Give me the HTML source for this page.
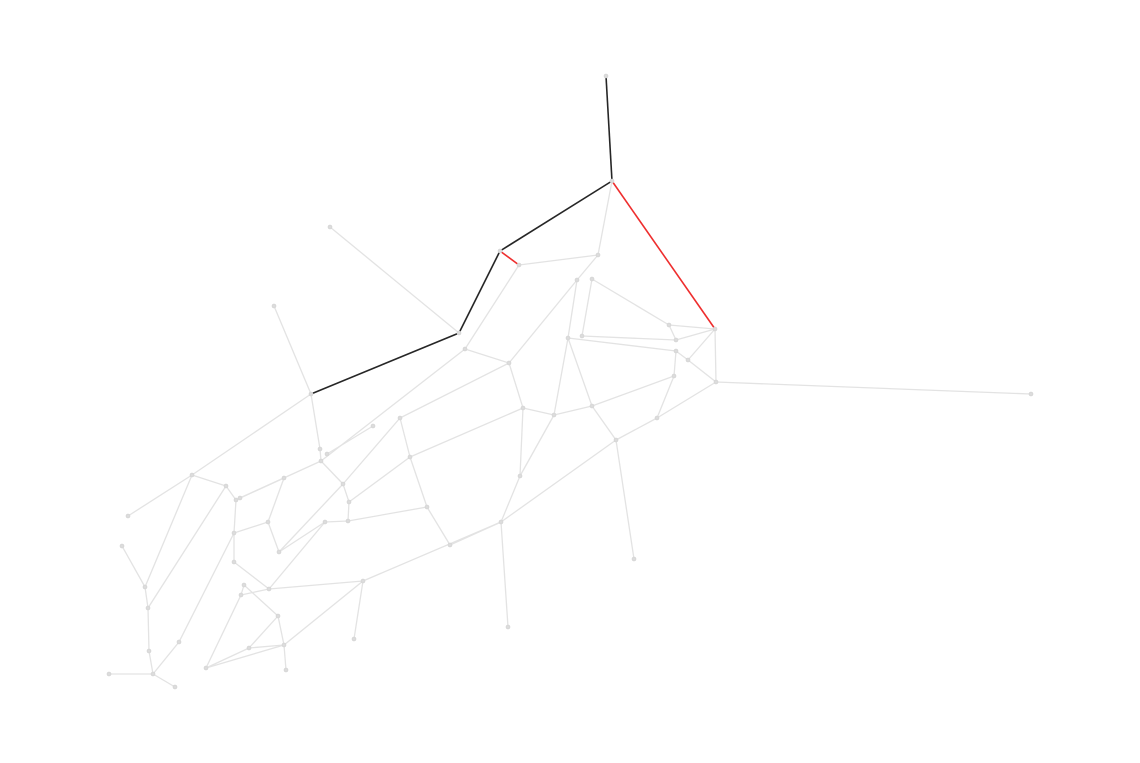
<!DOCTYPE html>
<html><head><meta charset="utf-8"><style>
html,body{margin:0;padding:0;background:#fff;width:1140px;height:763px;overflow:hidden;font-family:"Liberation Sans",sans-serif}
</style></head><body>
<svg id="chart" width="1140" height="763" viewBox="0 0 1140 763" xmlns="http://www.w3.org/2000/svg">
<g id="edges"></g>
<g id="path-edges"></g>
<g id="nodes"></g>
</svg>
<script>
const nodeIds = ["A","B","C","D","E","F","G","H","I","J","K","L","M","N","O","P","Q","R","S","T","U","V","W","X","Y","Z","a","b","c","d","e","f","g","h","i","j","k","l","m","n","o","p","q","r","s","t","u","v","v2","w","x","y","z","aa","bb","cc","dd","ee","ff","gg","hh","ii","jj","kk","ll","mm","nn","oo","pp","qq","tl","tl2"];
const nodeX = [606,612,500,519,598,459,311,715,1031,716,577,592,568,582,669,676,676,688,674,465,509,523,554,592,616,657,634,400,373,320,327,321,410,520,343,349,427,325,348,501,450,508,363,354,128,192,226,236,240,284,268,279,234,234,244,241,269,278,284,286,249,206,122,145,148,149,153,109,175,179,330,274];
const nodeY = [76,181,251,265,255,333,394,329,394,382,280,279,338,336,325,340,351,360,376,349,363,408,415,406,440,418,559,418,426,449,454,461,457,476,484,502,507,522,521,522,545,627,581,639,516,475,486,500,498,478,522,552,533,562,585,595,589,616,645,670,648,668,546,587,608,651,674,674,687,642,227,306];
const greyEdges = ["tl-F","tl2-G","G-t","G-d","t-s","t-u","t-kk","u-v","u-ll","v2-f","c-e","d-f","f-i","f-T","w-x","x-y","y-i","y-l","l-m","dd-l","m-k","k-g","k-o","g-b","o-n","n-h","h-V","V-U","U-T","T-D","U-b","b-i","g-j","V-g","m-j","q-dd","q-n","q-r","q-ff","n-p","n-Y","h-W","W-V","W-M","M-K","K-U","E-K","E-D","E-B","L-N","L-O","N-P","M-Q","O-P","O-H","P-H","Q-R","R-J","R-H","H-J","J-I","J-Z","Z-Y","Z-S","Q-S","S-X","X-W","X-Y","X-M","Y-a","i-j","v-z","z-x","z-aa","aa-dd","bb-ee","cc-dd","cc-ii","ii-hh","ii-ff","hh-ee","hh-ff","ff-gg","ff-ee","z-qq","qq-nn","kk-jj","kk-ll","ll-mm","mm-nn","nn-oo","nn-pp","w-v2","bb-cc"];
const blackEdges = ["A-B","B-C","C-F","F-G"];
const redEdges = ["B-H","C-D"];

const NS="http://www.w3.org/2000/svg";
function px(id){return nodeX[nodeIds.indexOf(id)];}
function py(id){return nodeY[nodeIds.indexOf(id)];}
function drawEdges(list,g,color,w,name){
  for(const e of list){
    const [a,b]=e.split("-");
    const l=document.createElementNS(NS,"line");
    l.setAttribute("x1",px(a));l.setAttribute("y1",py(a));
    l.setAttribute("x2",px(b));l.setAttribute("y2",py(b));
    l.setAttribute("stroke",color);l.setAttribute("stroke-width",w);
    
    
    g.appendChild(l);
  }
}
drawEdges(greyEdges,document.getElementById("edges"),"#e3e3e3",1.3,"edge");
drawEdges(blackEdges,document.getElementById("path-edges"),"#262626",1.6,"path-edge");
drawEdges(redEdges,document.getElementById("path-edges"),"#ee2e2e",1.6,"highlight-edge");
const ng=document.getElementById("nodes");
for(let i=0;i<nodeIds.length;i++){
  const c=document.createElementNS(NS,"circle");
  c.setAttribute("cx",nodeX[i]);c.setAttribute("cy",nodeY[i]);c.setAttribute("r",2);
  c.setAttribute("fill","#dcdcdc");c.setAttribute("stroke","#d0d0d0");c.setAttribute("stroke-width",0.6);
  
  
  ng.appendChild(c);
}
</script>
</body></html>
